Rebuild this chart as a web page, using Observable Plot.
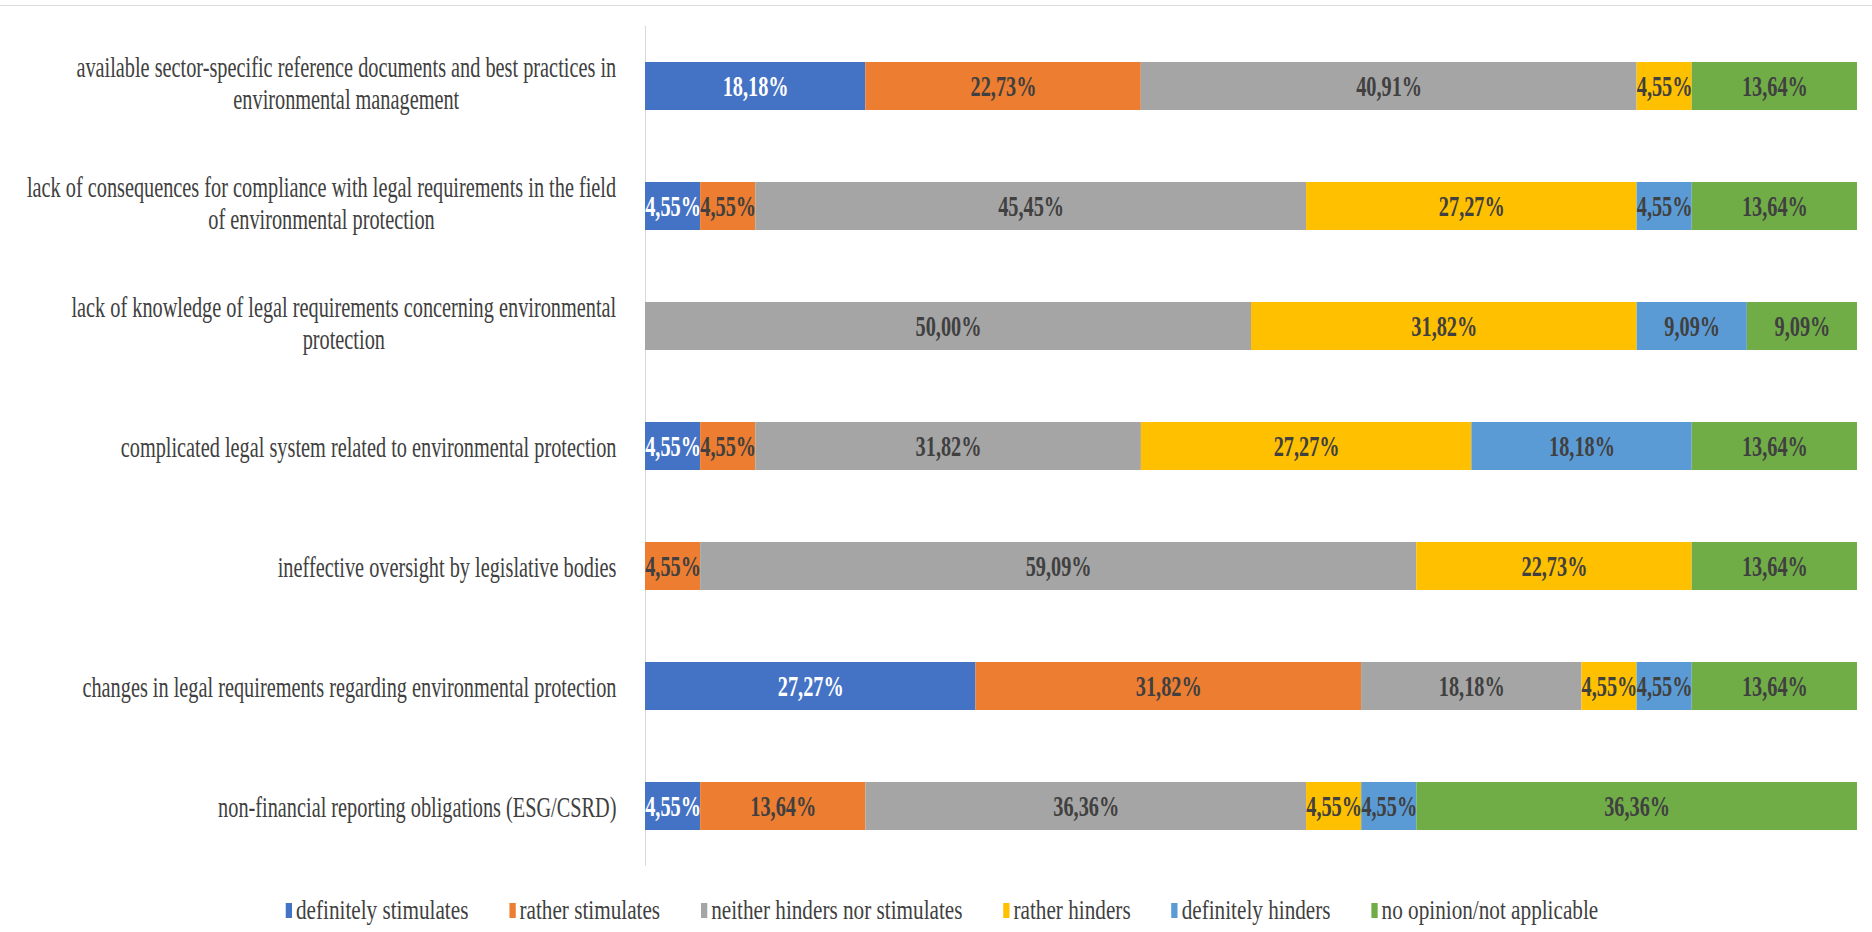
<!DOCTYPE html>
<html>
<head>
<meta charset="utf-8">
<script src="https://cdn.jsdelivr.net/npm/d3@7"></script>
<script src="https://cdn.jsdelivr.net/npm/@observablehq/plot@0.6"></script>
<style>
  html, body { margin: 0; padding: 0; background: white; }
  #frame { margin-top: 5px; border-top: 1px solid #dcdcdc; width: 1872px; }
  #legendWrap { width: 1872px; display: flex; justify-content: center; padding-top: 8px; }
  .lg-swatches { margin: 0 !important; transform: translateX(6px) scaleX(0.785); transform-origin: center; }
  .lg-swatch { margin-right: 52px !important; }
  .lg-swatch:last-child { margin-right: 0 !important; }
  .lg-swatch > svg { margin-right: 5px !important; }
</style>
</head>
<body>
<div id="frame"></div>
<div id="legendWrap"></div>
<script>
const categories = [
  "available sector-specific reference documents and best practices in environmental management",
  "lack of consequences for compliance with legal requirements in the field of environmental protection",
  "lack of knowledge of legal requirements concerning environmental protection",
  "complicated legal system related to environmental protection",
  "ineffective oversight by legislative bodies",
  "changes in legal requirements regarding environmental protection",
  "non-financial reporting obligations (ESG/CSRD)"
];
const categoryLabels = [
  "available sector-specific reference documents and best practices in\nenvironmental management",
  "lack of consequences for compliance with legal requirements in the field\nof environmental protection",
  "lack of knowledge of legal requirements concerning environmental\nprotection",
  "complicated legal system related to environmental protection",
  "ineffective oversight by legislative bodies",
  "changes in legal requirements regarding environmental protection",
  "non-financial reporting obligations (ESG/CSRD)"
];
const seriesNames = [
  "definitely stimulates",
  "rather stimulates",
  "neither hinders nor stimulates",
  "rather hinders",
  "definitely hinders",
  "no opinion/not applicable"
];
const seriesColors = ["#4472C4", "#ED7D31", "#A5A5A5", "#FFC000", "#5B9BD5", "#70AD47"];

const definitelyStimulates = [18.18, 4.55, 0, 4.55, 0, 27.27, 4.55];
const ratherStimulates     = [22.73, 4.55, 0, 4.55, 4.55, 31.82, 13.64];
const neitherHinders       = [40.91, 45.45, 50.00, 31.82, 59.09, 18.18, 36.36];
const ratherHinders        = [4.55, 27.27, 31.82, 27.27, 22.73, 4.55, 4.55];
const definitelyHinders    = [0, 4.55, 9.09, 18.18, 0, 4.55, 4.55];
const noOpinion            = [13.64, 13.64, 9.09, 13.64, 13.64, 13.64, 36.36];

const seriesValues = [definitelyStimulates, ratherStimulates, neitherHinders, ratherHinders, definitelyHinders, noOpinion];

const data = [];
seriesNames.forEach((s, j) => categories.forEach((c, i) => data.push({category: c, series: s, value: seriesValues[j][i]})));

const labelMap = new Map(categories.map((c, i) => [c, categoryLabels[i]]));
const fmt = v => v.toFixed(2).replace(".", ",") + "%";
const stack = o => Plot.stackX({x: "value", y: "category", z: "series", order: seriesNames, offset: "normalize", ...o});

const chart = Plot.plot({
  width: 1872,
  height: 880,
  marginTop: 20,
  marginBottom: 20,
  marginLeft: 645,
  marginRight: 15,
  style: {fontFamily: "'Liberation Serif', 'Times New Roman', serif", fontSize: "29px", background: "white", overflow: "visible"},
  x: {domain: [0, 1], axis: null},
  y: {domain: categories, paddingInner: 0.6, paddingOuter: 0.3, axis: null},
  color: {type: "ordinal", domain: seriesNames, range: seriesColors},
  marks: [
    Plot.ruleX([0], {stroke: "#d9d9d9", strokeWidth: 1}),
    Plot.barX(data, stack({fill: "series"})),
    Plot.axisY({tickSize: 0, tickPadding: 29, tickFormat: d => labelMap.get(d), label: null, color: "#404040", fontSize: 29, lineHeight: 1.1}),
    Plot.text(data, stack({text: d => d.series === seriesNames[0] && d.value > 0 ? fmt(d.value) : "", fill: "white", fontWeight: "bold", fontSize: 29})),
    Plot.text(data, stack({text: d => d.series !== seriesNames[0] && d.value > 0 ? fmt(d.value) : "", fill: "#404040", fontWeight: "bold", fontSize: 29}))
  ]
});

document.getElementById("frame").append(chart);

// Condensed serif look: scale every chart text horizontally about its anchor
const S = 0.7;
chart.querySelectorAll("text").forEach(t => {
  let tr = t.getAttribute("transform") || "";
  const tspans = t.querySelectorAll("tspan");
  if (tspans.length > 1) {
    const w = t.getBBox().width;
    t.setAttribute("text-anchor", "middle");
    tr += ` scale(${S},1) translate(${-w / 2},-4)`;
  } else {
    tr += ` scale(${S},1)`;
  }
  t.setAttribute("transform", tr.trim());
});

const legend = Plot.legend({
  color: {type: "ordinal", domain: seriesNames, range: seriesColors},
  legend: "swatches",
  swatchWidth: 8,
  swatchHeight: 15,
  className: "lg",
  style: {fontFamily: "'Liberation Serif', 'Times New Roman', serif", fontSize: "27px", color: "#404040"}
});
document.getElementById("legendWrap").append(legend);
</script>
</body>
</html>
